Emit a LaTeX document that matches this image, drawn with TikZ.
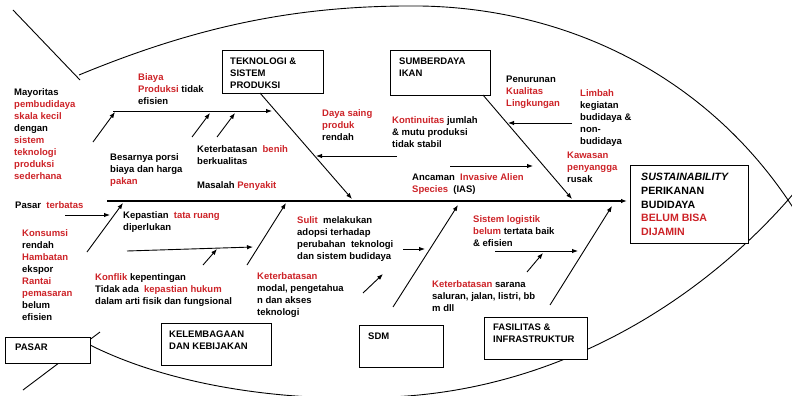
\documentclass[tikz,border=0pt]{standalone}
\usepackage{fontspec}
\setmainfont{Liberation Sans}
\usetikzlibrary{arrows.meta}
\definecolor{fishred}{RGB}{205,35,40}
\newcommand{\rd}[1]{\textcolor{fishred}{#1}}
\tikzset{
	txt/.style={anchor=north west, inner sep=0pt, align=left, font=\fontsize{9.5}{12}\selectfont\bfseries},
	box/.style={draw, line width=1pt, fill=white, anchor=north west, inner sep=0pt},
	arr/.style={-{Latex[length=6pt,width=4.5pt]}, line width=0.9pt},
	fish/.style={line width=0.9pt}
}

\begin{document}
\begin{tikzpicture}[x=1pt,y=-1pt]
		\useasboundingbox (0,0) rectangle (792,396);

		% fish outline
		\draw [fish] (13,10) -- (80,80);
		\draw [fish] (23,390) -- (100,332);
		\draw [fish] (79,75) .. controls (200,25) and (300,5) .. (420,6) .. controls (560,8) and (700,70) .. (788,200) -- (794,209);
		\draw [fish] (90,345) .. controls (180,390) and (300,402) .. (390,397) .. controls (560,390) and (700,300) .. (788,200) -- (794,193);

		% boxes
		\node [box, minimum width=101pt, minimum height=43pt] (tek) at (222,50) {};
		\node [box, minimum width=100pt, minimum height=45pt] (sda) at (390,50) {};
		\node [box, minimum width=85pt, minimum height=26pt] (pasar) at (5,337) {};
		\node [box, minimum width=110pt, minimum height=42pt] (kel) at (161,323) {};
		\node [box, minimum width=84pt, minimum height=42pt] (sdm) at (359,325) {};
		\node [box, minimum width=103pt, minimum height=42pt] (fas) at (484,317) {};
		\node [box, minimum width=118pt, minimum height=78pt] (sus) at (630,165) {};

		\node [txt] (tektxt) at (230,58) {TEKNOLOGI \&\\ SISTEM\\ PRODUKSI};
		\node [txt] (sdatxt) at (399,58) {SUMBERDAYA\\ IKAN};
		\node [txt] (pasartxt) at (15,344) {PASAR};
		\node [txt] (keltxt) at (169,331) {KELEMBAGAAN\\ DAN KEBIJAKAN};
		\node [txt] (sdmtxt) at (368,333) {SDM};
		\node [txt] (fastxt) at (493,324) {FASILITAS \&\\ INFRASTRUKTUR};
		\node [txt, font=\fontsize{10.6}{13.75}\selectfont\bfseries] (sustxt) at (641,173) {\textit{SUSTAINABILITY}\\ PERIKANAN\\ BUDIDAYA\\ \rd{BELUM BISA}\\ \rd{DIJAMIN}};

		% spine and main bones
		\coordinate (sp0) at (107,201);
		\coordinate (sp1) at (627,201);
		\coordinate (tekA) at (260,93);   \coordinate (tekB) at (352,199);
		\coordinate (sdaA) at (483,95);   \coordinate (sdaB) at (572,199);
		\coordinate (pasA) at (87,252);   \coordinate (pasB) at (123,203);
		\coordinate (kelA) at (247,265);  \coordinate (kelB) at (286,203);
		\coordinate (sdmA) at (393,307);  \coordinate (sdmB) at (458,205);
		\coordinate (fasA) at (550,305);  \coordinate (fasB) at (612,206);

		\draw [arr, line width=1.3pt] (sp0) -- (sp1);
		\foreach \b in {tek,sda,pas,kel,sdm,fas}{
				\draw [arr] (\b A) -- (\b B);
			}

		% side bones
		\coordinate (by0) at (113,111);  \coordinate (by1) at (272,111);
		\coordinate (s1a) at (93,142);   \coordinate (s1b) at (115,112);
		\coordinate (s2a) at (192,137);  \coordinate (s2b) at (210,113);
		\coordinate (s3a) at (217,137);  \coordinate (s3b) at (235,113);
		\coordinate (ds0) at (397,156);  \coordinate (ds1) at (316,156);
		\coordinate (lb0) at (572,123);  \coordinate (lb1) at (508,123);
		\coordinate (ia0) at (450,166);  \coordinate (ia1) at (533,166);
		\coordinate (pt0) at (65,215);   \coordinate (pt1) at (110,215);
		\coordinate (kb0) at (127,251);  \coordinate (kb1) at (253,247);
		\coordinate (s4a) at (203,265);  \coordinate (s4b) at (217,249);
		\coordinate (sd0) at (403,249);  \coordinate (sd1) at (425,249);
		\coordinate (s5a) at (363,293);  \coordinate (s5b) at (383,274);
		\coordinate (fs0) at (495,251);  \coordinate (fs1) at (578,251);
		\coordinate (s6a) at (527,272);  \coordinate (s6b) at (543,253);

		\foreach \s/\t in {by0/by1,s1a/s1b,s2a/s2b,s3a/s3b,ds0/ds1,lb0/lb1,ia0/ia1,pt0/pt1,kb0/kb1,s4a/s4b,sd0/sd1,s5a/s5b,fs0/fs1,s6a/s6b}{
				\draw [arr] (\s) -- (\t);
			}

		% causes
		\node [txt] (mayor) at (14,88) {Mayoritas\\ \rd{pembudidaya}\\ \rd{skala kecil}\\ dengan\\ \rd{sistem}\\ \rd{teknologi}\\ \rd{produksi}\\ \rd{sederhana}};
		\node [txt] (biaya) at (138,73) {\rd{Biaya}\\ \rd{Produksi} tidak\\ efisien};
		\node [txt] (porsi) at (110,153) {Besarnya porsi\\ biaya dan harga\\ \rd{pakan}};
		\node [txt] (benih) at (197,145) {Keterbatasan \ \rd{benih}\\ berkualitas};
		\node [txt] (penyakit) at (197,181) {Masalah \rd{Penyakit}};
		\node [txt] (dayasaing) at (322,109) {\rd{Daya saing}\\ \rd{produk}\\ rendah};
		\node [txt] (kontin) at (392,116) {\rd{Kontinuitas} jumlah\\ \& mutu produksi\\ tidak stabil};
		\node [txt] (penurun) at (506,76) {Penurunan\\ \rd{Kualitas}\\ \rd{Lingkungan}};
		\node [txt] (limbah) at (580,89) {\rd{Limbah}\\ kegiatan\\ budidaya \&\\ non-\\ budidaya};
		\node [txt] (kawasan) at (567,152) {\rd{Kawasan}\\ \rd{penyangga}\\ rusak};
		\node [txt] (ancaman) at (412,173) {Ancaman \ \rd{Invasive Alien}\\ \rd{Species} \ (IAS)};
		\node [txt] (terbatas) at (15,201) {Pasar \ \rd{terbatas}};
		\node [txt] (konsumsi) at (22,229) {\rd{Konsumsi}\\ rendah\\ \rd{Hambatan}\\ ekspor\\ \rd{Rantai}\\ \rd{pemasaran}\\ belum\\ efisien};
		\node [txt] (tataruang) at (123,211) {Kepastian \ \rd{tata ruang}\\ diperlukan};
		\node [txt] (konflik) at (95,273) {\rd{Konflik} kepentingan\\ Tidak ada \ \rd{kepastian hukum}\\ dalam arti fisik dan fungsional};
		\node [txt] (modal) at (257,272) {\rd{Keterbatasan}\\ modal, pengetahua\\ n dan akses\\ teknologi};
		\node [txt] (sulit) at (297,216) {\rd{Sulit} \ melakukan\\ adopsi terhadap\\ perubahan \ teknologi\\ dan sistem budidaya};
		\node [txt] (logistik) at (473,215) {\rd{Sistem logistik}\\ \rd{belum} tertata baik\\ \& efisien};
		\node [txt] (sarana) at (432,280) {\rd{Keterbatasan} sarana\\ saluran, jalan, listri, bb\\ m dll};

		\end{tikzpicture}
\end{document}
